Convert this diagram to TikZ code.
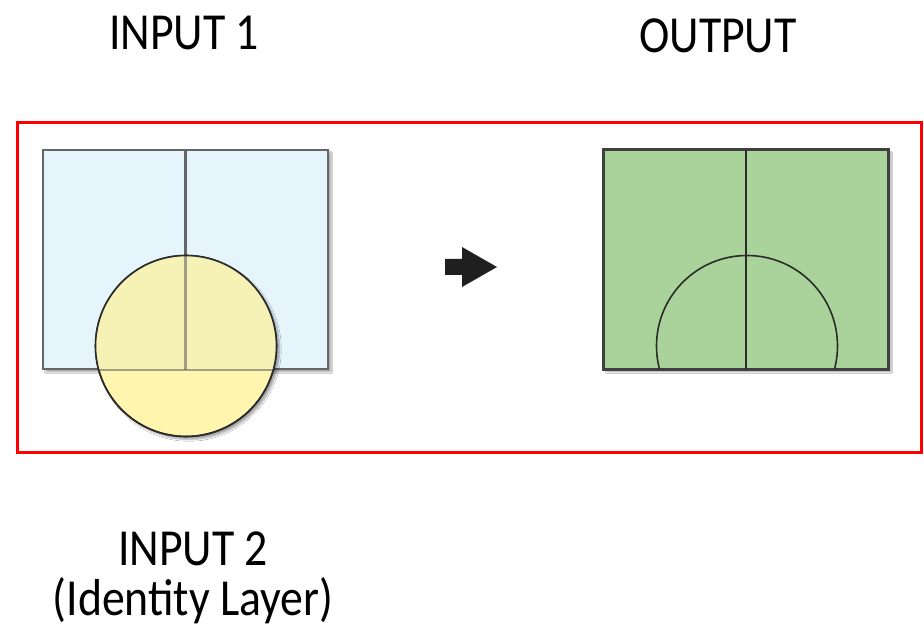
\documentclass[tikz,border=0pt]{standalone}
\usepackage{fontspec}
\newfontfamily\labelfont{Carlito}[FakeStretch=0.88]
\usetikzlibrary{shadows.blur}
\definecolor{frameRed}{HTML}{FF0000}
\definecolor{layerBlue}{HTML}{E6F5FC}
\definecolor{layerEdge}{HTML}{666666}
\definecolor{zoneYellow}{HTML}{FFF5AF}
\definecolor{zoneOverlap}{HTML}{F6F1B4}
\definecolor{resultGreen}{HTML}{A9D39A}
\definecolor{inkDark}{HTML}{2B2B2B}
\tikzset{
  title/.style={font=\labelfont\fontsize{52}{52}\selectfont, anchor=base, inner sep=0},
  softshadow/.style={blur shadow={shadow xshift=3pt, shadow yshift=-3pt, shadow blur steps=6, shadow opacity=35}},
  layer/.style={draw=layerEdge, line width=2.4pt, fill=layerBlue, minimum width=285, minimum height=219, inner sep=0, softshadow},
  result/.style={draw=inkDark!90, line width=2.2pt, fill=resultGreen, minimum width=284, minimum height=219, inner sep=0, softshadow},
  zone/.style={circle, minimum size=181, inner sep=0, draw=inkDark, line width=1.6pt, fill=zoneYellow, softshadow},
}
\begin{document}
\begin{tikzpicture}[x=1pt, y=1pt]
\useasboundingbox (0,0) rectangle (924,633);
\fill[white] (0,0) rectangle (924,633);

% titles
\node[title] (in1) at (184,583) {INPUT 1};
\node[title] (out) at (718,580) {OUTPUT};
\node[title] (in2) at (193,68) {INPUT 2};
\node[title] (in2b) at (193,18) {(Identity Layer)};

% surrounding frame
\node[draw=frameRed, line width=3pt, minimum width=904, minimum height=329, inner sep=0] (frame) at (469,345.5) {};

% input layer with its two polygons
\node[layer] (inrect) at (185.5,373.5) {};
\draw[layerEdge, line width=2.4pt] (inrect.north) -- (inrect.south);

% identity layer polygon on top; the input lines show through it
\node[zone] (idzone) at (186,287) {};
\begin{scope}
  \clip (186,287) circle (90.5);
  \fill[zoneOverlap] (inrect.south west) rectangle (inrect.north east);
  \draw[layerEdge, line width=2.4pt, opacity=0.6] (inrect.north) -- (inrect.south);
  \draw[layerEdge, line width=2.4pt, opacity=0.6] (inrect.south west) -- (inrect.south east);
\end{scope}
\draw[inkDark, line width=1.6pt] (idzone.center) circle (90.5);

% direction arrow
\fill[black!88] (445,358) coordinate (arrA) -- (462,358) -- (462,346) -- (497,366) coordinate (arrTip)
  -- (462,386) -- (462,374) -- (445,374) -- cycle;

% output layer: input split by the identity boundary
\node[result] (outrect) at (746,373.5) {};
\draw[inkDark, line width=1.6pt] (outrect.north) -- (outrect.south);
\begin{scope}
  \clip (outrect.south west) rectangle (outrect.north east);
  \node[circle, minimum size=181, inner sep=0, draw=inkDark, line width=1.6pt] (outzone) at (747,287) {};
\end{scope}
\draw[inkDark!90, line width=2.2pt] (outrect.south west) rectangle (outrect.north east);
\end{tikzpicture}
\end{document}
